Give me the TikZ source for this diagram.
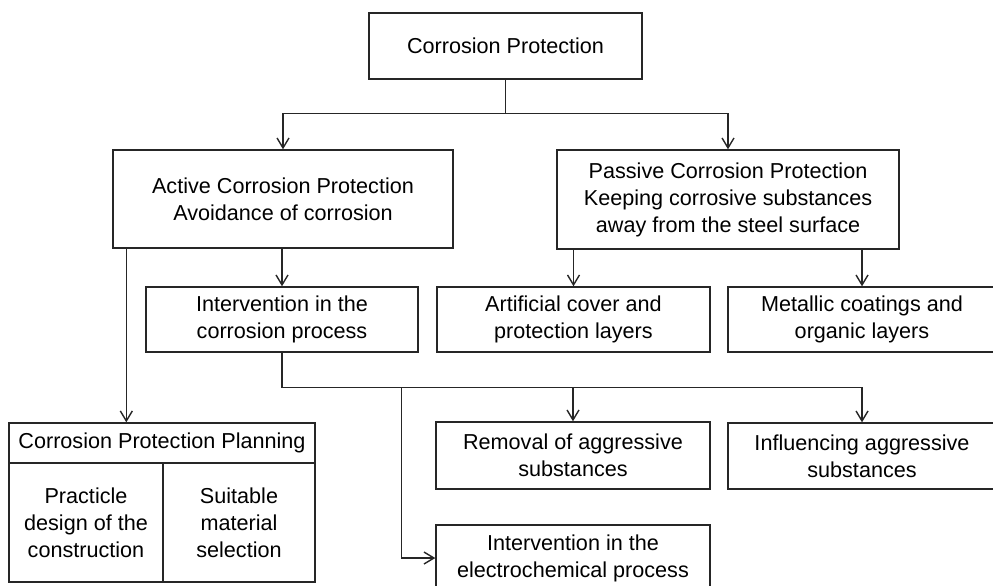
\documentclass[tikz,border=0pt]{standalone}
\usepackage{fontspec}
\setmainfont{Liberation Sans}
\usetikzlibrary{arrows.meta}

\begin{document}
\begin{tikzpicture}
    [x=0.02cm, y=-0.02cm,
    font=\fontsize{12.3}{15.4}\selectfont,
    box/.style={draw=black!85, line width=0.8pt, rectangle, inner sep=0pt, align=center},
    link/.style={draw=black!85, line width=0.8pt},
    arr/.style={link, -{Straight Barb[length=2mm, width=2.4mm]}}]
    \useasboundingbox (0,0) rectangle (993,585);
    \clip (0,0) rectangle (993,585);
    % top level
    \node [box, minimum width=5.46cm, minimum height=1.32cm] (top) at (505.5,46) {Corrosion Protection};
    % second level
    \node [box, minimum width=6.8cm, minimum height=1.96cm] (active) at (283,199)
        {Active Corrosion Protection\\Avoidance of corrosion};
    \node [box, minimum width=6.84cm, minimum height=1.98cm] (passive) at (728,199.5)
        {Passive Corrosion Protection\\Keeping corrosive substances\\away from the steel surface};
    % third level
    \node [box, minimum width=5.44cm, minimum height=1.3cm] (interv) at (282,319.5)
        {Intervention in the\\corrosion process};
    \node [box, minimum width=5.46cm, minimum height=1.3cm] (cover) at (573.5,319.5)
        {Artificial cover and\\protection layers};
    \node [box, minimum width=5.36cm, minimum height=1.3cm] (metal) at (862,319.5)
        {Metallic coatings and\\organic layers};
    % fourth level
    \node [box, minimum width=5.48cm, minimum height=1.34cm] (removal) at (573,455.5)
        {Removal of aggressive\\substances};
    \node [box, minimum width=5.36cm, minimum height=1.32cm] (influence) at (862,456)
        {Influencing aggressive\\substances};
    \node [box, minimum width=5.48cm, minimum height=1.32cm] (electro) at (573,558)
        {Intervention in the\\electrochemical process};
    % planning table
    \node [box, minimum width=6.12cm, minimum height=0.8cm] (plan) at (162,443)
        {Corrosion Protection Planning};
    \node [box, minimum width=3.08cm, minimum height=2.38cm] (design) at (86,522.5)
        {Practicle\\design of the\\construction};
    \node [box, minimum width=3.04cm, minimum height=2.38cm] (material) at (239,522.5)
        {Suitable\\material\\selection};

    % connectors
    \coordinate (j1) at ([yshift=-0.68cm]top.south);
    \draw [link] (top.south) -- (j1);
    \draw [arr] (j1) -| (active.north);
    \draw [arr] (j1) -| (passive.north);
    \draw [arr] (interv.north |- active.south) -- (interv.north);
    \draw [arr] (cover.north |- passive.south) -- (cover.north);
    \draw [arr] (metal.north |- passive.south) -- (metal.north);
    \coordinate (a1) at ([xshift=0.28cm]active.south west);
    \draw [arr] (a1) -- (a1 |- plan.north);
    \coordinate (j2) at ([yshift=-0.7cm]interv.south);
    \draw [link] (interv.south) -- (j2);
    \draw [arr] (j2) -| (removal.north);
    \draw [arr] (j2) -| (influence.north);
    \coordinate (e1) at ([xshift=-0.68cm]electro.west);
    \draw [arr] (e1 |- j2) -- (e1) -- (electro.west);
\end{tikzpicture}
\end{document}
